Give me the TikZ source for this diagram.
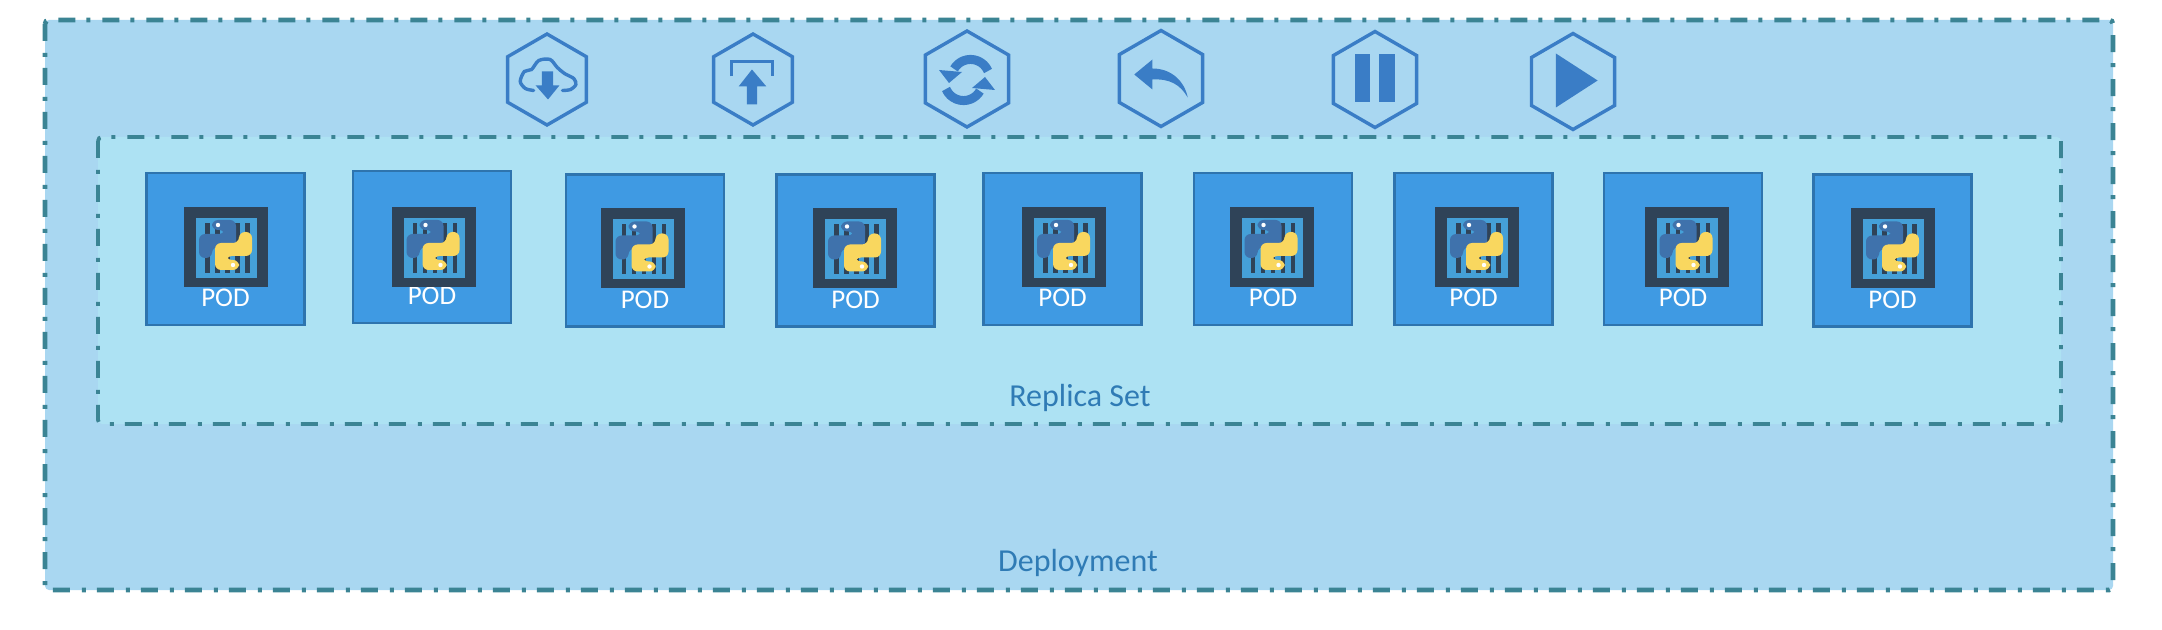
\documentclass[tikz,border=0pt]{standalone}
\usepackage{fontspec}
\setmainfont{Carlito}
\usetikzlibrary{shapes.geometric}
\definecolor{DeployBlue}{HTML}{A9D7F1}
\definecolor{ReplicaBlue}{HTML}{ADE2F3}
\definecolor{FrameTeal}{HTML}{3B8494}
\definecolor{PodBlue}{HTML}{3F9AE3}
\definecolor{PodEdge}{HTML}{2E74AE}
\definecolor{CageDark}{HTML}{2F4358}
\definecolor{CageBlue}{HTML}{45A0D8}
\definecolor{PyBlue}{HTML}{3F72AC}
\definecolor{PyGold}{HTML}{F9D75F}
\definecolor{IconBlue}{HTML}{3A7DC6}
\definecolor{LabelBlue}{HTML}{2F7BB5}
% one half of the snake, the other half is the same turned round
\newcommand{\pyhalf}[2]{%
  \fill[#1, rounded corners=3pt] (-14,-27) -- (10,-27) -- (10,0) -- (-14,0) -- (-14,11)
    -- (-27,11) -- (-27,-13) -- (-1,-13) -- (-1,-17) -- (-14,-17) -- cycle;
  \fill[#2] (-8,-22) circle[radius=2.2];}
\begin{document}
\begin{tikzpicture}[x=0.5pt, y=-0.5pt,
      deployframe/.style={draw=FrameTeal, fill=DeployBlue, line width=2.4pt, rounded corners=2pt,
                  dash pattern=on 8.5pt off 6pt on 2pt off 5.5pt},
      replicaframe/.style={deployframe, fill=ReplicaBlue, line width=1.9pt},
      frametext/.style={text=LabelBlue, font=\fontsize{16}{18}\selectfont, anchor=base},
      podbox/.style={draw=PodEdge, fill=PodBlue, line width=1.3pt, minimum width=79pt, minimum height=76pt},
      podtext/.style={text=white, font=\fontsize{13.5}{15}\selectfont},
      hexicon/.style={draw=IconBlue, regular polygon, regular polygon sides=6, shape border rotate=30,
                  line width=1.7pt, inner sep=0pt, minimum size=#1},
      glyph/.style={fill=IconBlue},
      glyphline/.style={draw=IconBlue, line width=1.7pt}]
    \useasboundingbox (0,0) rectangle (2162,630);
    \draw[deployframe] (45,20) rectangle (2113,590);
    \draw[replicaframe] (98,137) rectangle (2061,424);
    \node[frametext] (replica) at (1080,406.5) {Replica Set};
    \node[frametext] (deployment) at (1078,571) {Deployment};
    % pods, the last two numbers nudge the cage inside its box
    \foreach \name/\cx/\cy/\dx/\dy in {poda/225.5/249/0.5/-2, podb/432/247/1.5/0, podc/645/250.5/-2.5/-2,
        podd/855.5/250.5/-0.5/-2, pode/1062.5/249/1.5/-2, podf/1273/249/-1.5/-2,
        podg/1473.5/249/3.5/-2, podh/1683/249/3.5/-2, podi/1892.5/250.5/0.5/-2} {
      \begin{scope}[shift={(\cx,\cy)}]
        \node[podbox] (\name) at (0,0) {};
        \node[podtext] (\name-text) at (0,49) {POD};
        \begin{scope}[shift={(\dx,\dy)}]
          \fill[CageDark] (-42,-40) rectangle (42,40);
          \fill[CageBlue] (-30,-29) rectangle (31,31);
          \foreach \bar in {-21,-11,-1,9,19}
            \fill[CageDark] (\bar,-24) rectangle ++(4.5,50);
          \pyhalf{PyBlue}{white}
          \begin{scope}[rotate around={180:(-0.5,-2)}]
            \pyhalf{PyGold}{white}
          \end{scope}
        \end{scope}
      \end{scope}
    }
    % icons along the top
    \node[hexicon=45.5pt] (pull) at (547,79.5) {};
    \node[hexicon=45.5pt] (push) at (753,79.5) {};
    \node[hexicon=48pt] (sync) at (967,79) {};
    \node[hexicon=48pt] (undo) at (1161,78.5) {};
    \node[hexicon=48pt] (pause) at (1375,79.5) {};
    \node[hexicon=48pt] (play) at (1573,81.5) {};
    \begin{scope}[shift={(547,79.5)}, xscale=1.03]
      \draw[glyphline, line cap=round] plot[smooth] coordinates {(-13,11) (-21,9) (-26,2) (-22,-8) (-15,-10) (-8,-19) (3,-20) (10,-12) (17,-6) (26,-1) (28,5) (23,10) (15,11)};
      \fill[glyph] (-5,-8) -- (6,-8) -- (6,6) -- (12,6) -- (1,20) -- (-11,6) -- (-5,6) -- cycle;
    \end{scope}
    \begin{scope}[shift={(753,79.5)}, xscale=1.03]
      \draw[glyphline] (-21,-3) -- (-21,-18) -- (19,-18) -- (19,-3);
      \fill[glyph] (-1,-10) -- (13,7) -- (4,7) -- (4,25) -- (-6,25) -- (-6,7) -- (-14,7) -- cycle;
    \end{scope}
    \begin{scope}[shift={(967,80)}]
      \foreach \turn in {0,180} {
        \begin{scope}[rotate=\turn]
          \draw[IconBlue, line width=4.5pt] (21,-9) arc[start angle=-23, end angle=-150, radius=19];
          \fill[glyph] (-28,-10) -- (-5,-8) -- (-18,3) -- cycle;
        \end{scope}
      }
    \end{scope}
    \begin{scope}[shift={(1161,78.5)}, xscale=1.07]
      \fill[glyph] (-25,-4) -- (-8,-19) -- (-8,-10) .. controls (10,-10) and (22,3) .. (25,19)
        .. controls (18,6) and (8,0) .. (-8,1) -- (-8,11) -- cycle;
    \end{scope}
    \begin{scope}[shift={(1375,79.5)}, xscale=1.07]
      \fill[glyph] (-19,-25) rectangle (-5,23);
      \fill[glyph] (4,-25) rectangle (19,23);
    \end{scope}
    \begin{scope}[shift={(1573,81.5)}, xscale=1.07]
      \fill[glyph] (-16,-28) -- (23,-1) -- (-16,26) -- cycle;
    \end{scope}
  \end{tikzpicture}
\end{document}
